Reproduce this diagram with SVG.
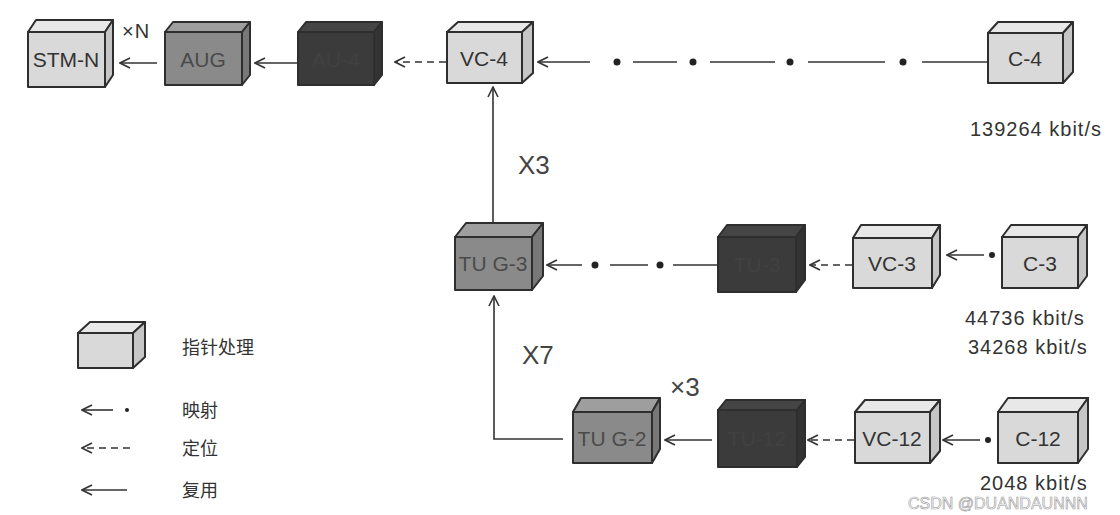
<svg xmlns="http://www.w3.org/2000/svg" width="1120" height="515" viewBox="0 0 1120 515">
<defs>
<marker id="ah" viewBox="0 0 12 12" refX="11" refY="6" markerWidth="12" markerHeight="12" markerUnits="userSpaceOnUse" orient="auto">
<path d="M1,1 L11,6 L1,11" fill="none" stroke="#333" stroke-width="1.6"/>
</marker>
</defs>
<style>
.bx{stroke:#2e2e2e;stroke-width:2;stroke-linejoin:round}
.lf{fill:#d9d9d9}.lt{fill:#e8e8e8}.ls{fill:#c6c6c6}
.mf{fill:#8a8a8a}.mt{fill:#9e9e9e}.ms{fill:#787878}
.df{fill:#3b3b3b}.dt{fill:#454545}.ds{fill:#333}
.lbl{font-family:"Liberation Sans","DejaVu Sans",sans-serif;font-size:21px;fill:#333;text-anchor:middle}
.mlbl{fill:#4a4a4a}
.dlbl{fill:#414141}
.ln{stroke:#333;stroke-width:1.6;fill:none}
.dash{stroke-dasharray:7,5}
.dot{fill:#222}
.rate{font-family:"Liberation Sans","DejaVu Sans",sans-serif;font-size:20px;fill:#333;letter-spacing:1px}
.big{font-family:"Liberation Sans","DejaVu Sans",sans-serif;font-size:26px;fill:#444}
.cjk{font-family:"Liberation Sans","Noto Sans CJK SC",sans-serif;font-size:18px;fill:#333}
</style>

<g id="connectors">
<line class="ln" x1="157" y1="63" x2="120" y2="63" marker-end="url(#ah)"/>
<line class="ln" x1="297" y1="63" x2="255" y2="63" marker-end="url(#ah)"/>
<line class="ln dash" x1="446" y1="62" x2="395" y2="62" marker-end="url(#ah)"/>
<line class="ln" x1="590" y1="62" x2="538" y2="62" marker-end="url(#ah)"/>
<circle class="dot" cx="617" cy="62" r="3.5"/>
<line class="ln" x1="633" y1="62" x2="677" y2="62"/>
<circle class="dot" cx="693" cy="62" r="3.5"/>
<line class="ln" x1="710" y1="62" x2="775" y2="62"/>
<circle class="dot" cx="790" cy="62" r="3.5"/>
<line class="ln" x1="808" y1="62" x2="885" y2="62"/>
<circle class="dot" cx="903" cy="62" r="3.5"/>
<line class="ln" x1="922" y1="62" x2="988" y2="62"/>
<line class="ln" x1="493" y1="224" x2="493" y2="87" marker-end="url(#ah)"/>
<line class="ln" x1="582" y1="265" x2="547" y2="265" marker-end="url(#ah)"/>
<circle class="dot" cx="595" cy="265" r="3.5"/>
<line class="ln" x1="610" y1="265" x2="648" y2="265"/>
<circle class="dot" cx="660" cy="265" r="3.5"/>
<line class="ln" x1="673" y1="265" x2="717" y2="265"/>
<line class="ln dash" x1="852" y1="265" x2="810" y2="265" marker-end="url(#ah)"/>
<line class="ln" x1="984" y1="255" x2="947" y2="255" marker-end="url(#ah)"/>
<circle class="dot" cx="992" cy="255" r="3"/>
<polyline class="ln" points="563,439 494,439 494,296" marker-end="url(#ah)"/>
<line class="ln" x1="712" y1="440" x2="665" y2="440" marker-end="url(#ah)"/>
<line class="ln dash" x1="854" y1="440" x2="808" y2="440" marker-end="url(#ah)"/>
<line class="ln" x1="980" y1="440" x2="943" y2="440" marker-end="url(#ah)"/>
<circle class="dot" cx="988" cy="440" r="3"/>
</g>

<g id="stm-n">
<polygon class="bx lt" points="28,32 36,20 113,20 105,32"/>
<polygon class="bx ls" points="105,32 113,20 113,75 105,87"/>
<rect class="bx lf" x="28" y="32" width="77" height="55"/>
<text class="lbl" x="66" y="67" font-size="20">STM-N</text>
</g>
<g id="aug">
<polygon class="bx mt" points="165,32 173,22 250,22 242,32"/>
<polygon class="bx ms" points="242,32 250,22 250,75 242,85"/>
<rect class="bx mf" x="165" y="32" width="77" height="53"/>
<text class="lbl mlbl" x="203" y="67">AUG</text>
</g>
<g id="au-4">
<polygon class="bx dt" points="298,32 306,22 382,22 374,32"/>
<polygon class="bx ds" points="374,32 382,22 382,75 374,85"/>
<rect class="bx df" x="298" y="32" width="76" height="53"/>
<text class="lbl dlbl" x="336" y="67">AU-4</text>
</g>
<g id="vc-4">
<polygon class="bx lt" points="447,32 458,22 533,22 522,32"/>
<polygon class="bx ls" points="522,32 533,22 533,73 522,83"/>
<rect class="bx lf" x="447" y="32" width="75" height="51"/>
<text class="lbl" x="484" y="66" font-size="23">VC-4</text>
</g>
<g id="c-4">
<polygon class="bx lt" points="988,33 998,22 1073,22 1063,33"/>
<polygon class="bx ls" points="1063,33 1073,22 1073,72 1063,83"/>
<rect class="bx lf" x="988" y="33" width="75" height="50"/>
<text class="lbl" x="1025" y="66">C-4</text>
</g>
<text class="rate" x="970" y="136">139264 kbit/s</text>

<g id="tug-3">
<polygon class="bx mt" points="455,237 466,223 543,223 532,237"/>
<polygon class="bx ms" points="532,237 543,223 543,276 532,290"/>
<rect class="bx mf" x="455" y="237" width="77" height="53"/>
<text class="lbl mlbl" x="493" y="271">TU G-3</text>
</g>
<g id="tu-3">
<polygon class="bx dt" points="718,237 727,225 805,225 796,237"/>
<polygon class="bx ds" points="796,237 805,225 805,280 796,292"/>
<rect class="bx df" x="718" y="237" width="78" height="55"/>
<text class="lbl dlbl" x="757" y="272">TU-3</text>
</g>
<g id="vc-3">
<polygon class="bx lt" points="853,238 861,225 940,225 932,238"/>
<polygon class="bx ls" points="932,238 940,225 940,275 932,288"/>
<rect class="bx lf" x="853" y="238" width="79" height="50"/>
<text class="lbl" x="892" y="271" font-size="22">VC-3</text>
</g>
<g id="c-3">
<polygon class="bx lt" points="1002,237 1011,225 1087,225 1078,237"/>
<polygon class="bx ls" points="1078,237 1087,225 1087,276 1078,288"/>
<rect class="bx lf" x="1002" y="237" width="76" height="51"/>
<text class="lbl" x="1040" y="271" font-size="22">C-3</text>
</g>
<text class="rate" x="965" y="325" font-size="22" letter-spacing="2">44736 kbit/s</text>
<text class="rate" x="968" y="354" font-size="22" letter-spacing="2">34268 kbit/s</text>

<g id="tug-2">
<polygon class="bx mt" points="573,412 581,398 660,398 652,412"/>
<polygon class="bx ms" points="652,412 660,398 660,449 652,463"/>
<rect class="bx mf" x="573" y="412" width="79" height="51"/>
<text class="lbl mlbl" x="612" y="446">TU G-2</text>
</g>
<g id="tu-12">
<polygon class="bx dt" points="718,410 726,400 805,400 797,410"/>
<polygon class="bx ds" points="797,410 805,400 805,457 797,467"/>
<rect class="bx df" x="718" y="410" width="79" height="57"/>
<text class="lbl dlbl" x="757" y="446">TU-12</text>
</g>
<g id="vc-12">
<polygon class="bx lt" points="855,412 865,400 940,400 930,412"/>
<polygon class="bx ls" points="930,412 940,400 940,451 930,463"/>
<rect class="bx lf" x="855" y="412" width="75" height="51"/>
<text class="lbl" x="892" y="446" font-size="22">VC-12</text>
</g>
<g id="c-12">
<polygon class="bx lt" points="998,412 1008,398 1088,398 1078,412"/>
<polygon class="bx ls" points="1078,412 1088,398 1088,449 1078,463"/>
<rect class="bx lf" x="998" y="412" width="80" height="51"/>
<text class="lbl" x="1038" y="446" font-size="22">C-12</text>
</g>
<text class="rate" x="980" y="490" font-size="21" letter-spacing="1.5">2048 kbit/s</text>

<text class="rate" x="122" y="38" font-size="19">×N</text>
<text class="big" x="518" y="174">X3</text>
<text class="big" x="522" y="364">X7</text>
<text class="big" x="670" y="396" font-size="24">×3</text>

<g id="legend">
<g id="legend-box">
<polygon class="bx lt" points="78,333 90,322 145,322 133,333"/>
<polygon class="bx ls" points="133,333 145,322 145,357 133,368"/>
<rect class="bx lf" x="78" y="333" width="55" height="35"/>
</g>
<text class="cjk" x="182" y="354">指针处理</text>
<line class="ln" x1="113" y1="410" x2="82" y2="410" marker-end="url(#ah)"/>
<circle class="dot" cx="127" cy="410" r="2"/>
<text class="cjk" x="182" y="417">映射</text>
<line class="ln dash" x1="130" y1="448" x2="82" y2="448" marker-end="url(#ah)"/>
<text class="cjk" x="182" y="455">定位</text>
<line class="ln" x1="127" y1="490" x2="82" y2="490" marker-end="url(#ah)"/>
<text class="cjk" x="182" y="497">复用</text>
</g>

<text x="908" y="509" font-family="Liberation Sans, DejaVu Sans, sans-serif" font-size="16" fill="#ffffff" fill-opacity="0.75" stroke="#999" stroke-width="0.6">CSDN @DUANDAUNNN</text>
</svg>
